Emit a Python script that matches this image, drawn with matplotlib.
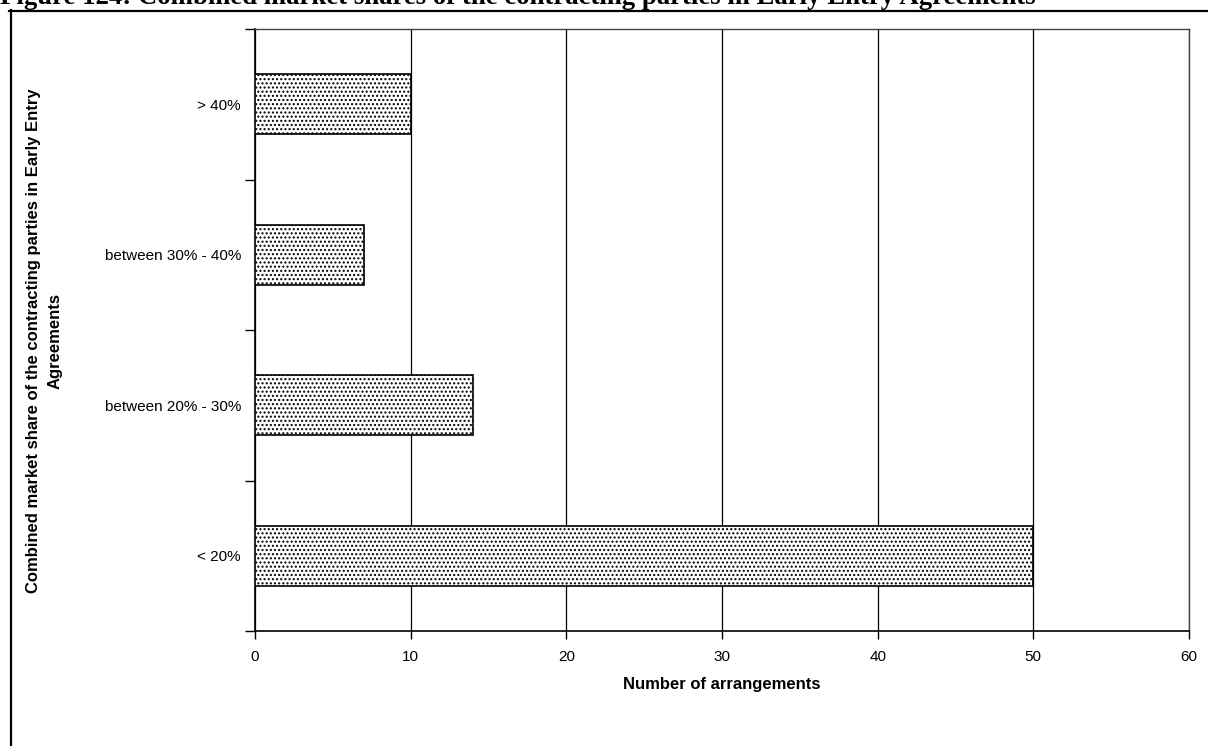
import matplotlib
matplotlib.use("Agg")
import matplotlib.pyplot as plt
from matplotlib.lines import Line2D

categories = ["< 20%", "between 20% - 30%", "between 30% - 40%", "> 40%"]
values = [50, 14, 7, 10]
x_ticks = [0, 10, 20, 30, 40, 50, 60]
title = "Figure 124: Combined market shares of the contracting parties in Early Entry Agreements"
xlabel = "Number of arrangements"
ylabel = "Combined market share of the contracting parties in Early Entry\nAgreements"

W, H = 1208, 746
plt.rcParams['hatch.color'] = '#333333'
plt.rcParams['hatch.linewidth'] = 1.0
fig = plt.figure(figsize=(W / 100, H / 100), dpi=100)
ax = fig.add_axes([255 / W, 1 - 631 / H, (1189 - 255) / W, (631 - 29) / H])

pos = list(range(len(categories)))
ax.barh(pos, values, height=0.4, color='white', edgecolor='black', linewidth=1.2,
        hatch='....', zorder=3)
ax.set_xlim(0, 60)
ax.set_ylim(-0.5, len(categories) - 0.5)
ax.set_xticks(x_ticks)
ax.set_xticklabels([str(v) for v in x_ticks], fontsize=11, fontfamily='Liberation Sans')
ax.set_yticks(pos)
ax.set_yticklabels(categories, fontsize=11, fontfamily='Liberation Sans')
ax.tick_params(axis='y', length=0, pad=10)
ax.set_yticks([p - 0.5 for p in range(len(categories) + 1)], minor=True)
ax.tick_params(axis='y', which='minor', length=7, width=1, direction='out')
ax.tick_params(axis='x', length=6, width=1, direction='out', pad=8)
ax.xaxis.grid(True, color='black', linewidth=0.9, zorder=0)
for s in ['top', 'right']:
    ax.spines[s].set_color('#444444')
    ax.spines[s].set_linewidth(1.0)
for s in ['left', 'bottom']:
    ax.spines[s].set_color('black')
    ax.spines[s].set_linewidth(1.2)

ax.set_xlabel(xlabel, fontsize=12, fontweight='bold', fontfamily='Liberation Sans', labelpad=9)
fig.text(44 / W, 1 - 341 / H, ylabel, rotation=90, ha='center', va='center',
         fontsize=12, fontweight='bold', fontfamily='Liberation Sans', linespacing=1.55,
         multialignment='center')

fig.text(0, 1 - 4.5 / H, title, ha='left', va='baseline', fontsize=19.3,
         fontweight='bold', fontfamily='Liberation Serif')

fig.add_artist(Line2D([9 / W, 1], [1 - 11 / H, 1 - 11 / H], color='black', linewidth=1.6,
                      transform=fig.transFigure))
fig.add_artist(Line2D([11 / W, 11 / W], [1 - 10 / H, 0], color='black', linewidth=1.6,
                      transform=fig.transFigure))

fig.savefig("out.png", dpi=100)
